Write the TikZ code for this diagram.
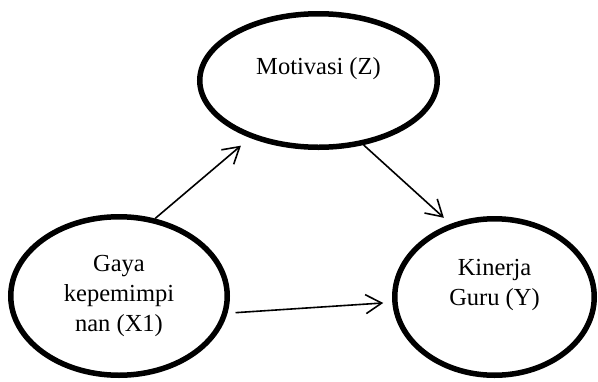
\documentclass[tikz,border=0pt]{standalone}
\usepackage{fontspec}
\setmainfont{Liberation Serif}
\usetikzlibrary{shapes.geometric,arrows.meta}

\begin{document}
\begin{tikzpicture}[x=1pt,y=-1pt,
	var/.style={draw,ellipse,line width=5.5pt,inner sep=0pt,align=center,font=\fontsize{24.5}{30}\selectfont},
	arr/.style={-{Straight Barb[length=16pt,width=19pt]},line width=1.6pt}]
	\useasboundingbox (0,0) rectangle (598,381);
	\node[var,minimum width=237.5pt,minimum height=133.5pt] (motiv) at (318.5,80.5) {Motivasi (Z)\\ \mbox{}};
	\node[var,minimum width=216.5pt,minimum height=158.5pt] (gaya) at (119,296) {Gaya\\kepemimpi\\nan (X1)};
	\node[var,minimum width=199.5pt,minimum height=156.5pt] (kinerja) at (494.5,297) {Kinerja\\Guru (Y)\\ \mbox{}};
	% pengaruh antar variabel
	\draw[arr,shorten >=12pt] (gaya.65) -- (motiv.220.5);
	\draw[arr,shorten >=9pt] (motiv.-55) -- (kinerja.121);
	\draw[arr,shorten <=8pt,shorten >=9pt] (gaya.-9.3) -- (kinerja.183.4);
\end{tikzpicture}
\end{document}
